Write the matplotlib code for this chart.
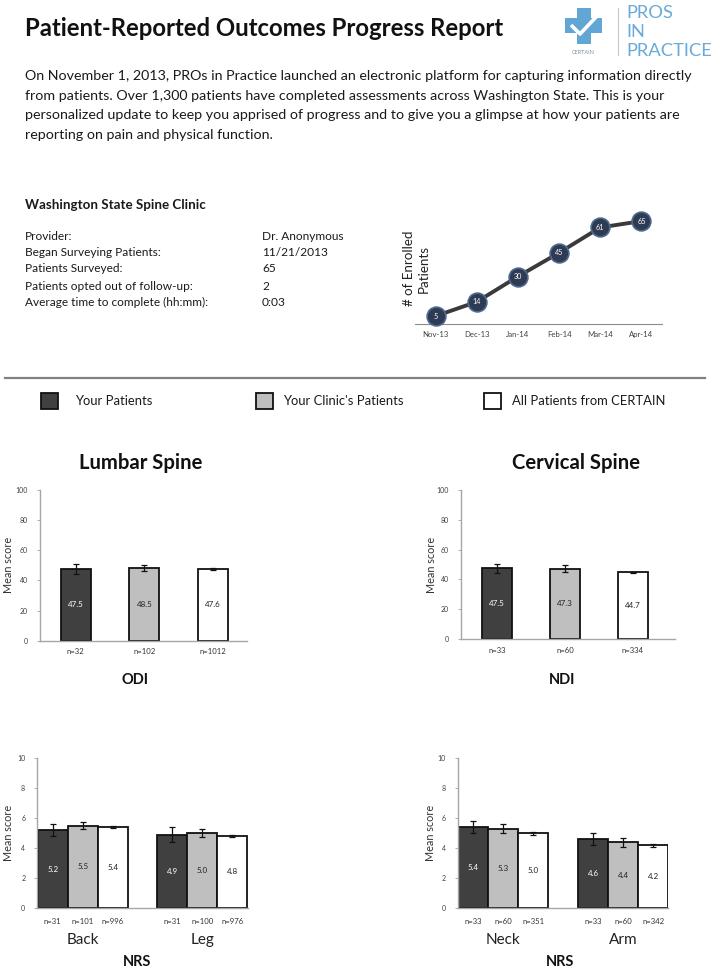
import matplotlib
matplotlib.use("Agg")
import matplotlib.pyplot as plt
from matplotlib.patches import Rectangle
import numpy as np

plt.rcParams['font.family'] = ['Lato', 'DejaVu Sans']

# ---------------- data ----------------
months = ['Nov-13', 'Dec-13', 'Jan-14', 'Feb-14', 'Mar-14', 'Apr-14']
enrolled = [5, 14, 30, 45, 61, 65]

series_names = ['Your Patients', "Your Clinic's Patients", 'All Patients from CERTAIN']

odi_mean = [47.5, 48.5, 47.6]
odi_err = [3.4, 2.0, 0.5]
odi_n = [32, 102, 1012]

ndi_mean = [47.5, 47.3, 44.7]
ndi_err = [3.1, 2.5, 0.6]
ndi_n = [33, 60, 334]

lumbar_nrs_cats = ['Back', 'Leg']
lumbar_nrs_mean = [[5.2, 4.9], [5.5, 5.0], [5.4, 4.8]]
lumbar_nrs_err = [[0.4, 0.48], [0.22, 0.25], [0.05, 0.05]]
lumbar_nrs_n = [[31, 31], [101, 100], [996, 976]]

cervical_nrs_cats = ['Neck', 'Arm']
cervical_nrs_mean = [[5.4, 4.6], [5.3, 4.4], [5.0, 4.2]]
cervical_nrs_err = [[0.38, 0.42], [0.28, 0.3], [0.1, 0.1]]
cervical_nrs_n = [[33, 33], [60, 60], [351, 342]]

info_labels = ['Provider:', 'Began Surveying Patients:', 'Patients Surveyed:',
               'Patients opted out of follow-up:', 'Average time to complete (hh:mm):']
info_values = ['Dr. Anonymous', '11/21/2013', '65', '2', '0:03']

# ---------------- styles ----------------
bar_colors = ['#404040', '#bfbfbf', '#ffffff']
label_colors = ['white', '#222222', '#222222']
W, H = 720, 975

fig = plt.figure(figsize=(W / 100, H / 100), dpi=100)
fig.patch.set_facecolor('white')

# overlay axes in pixel coordinates for decorations / text
ov = fig.add_axes([0, 0, 1, 1])
ov.set_xlim(0, W)
ov.set_ylim(H, 0)
ov.axis('off')
ov.patch.set_alpha(0)


def T(x, y, s, **kw):
    kw.setdefault('va', 'center')
    kw.setdefault('ha', 'left')
    kw.setdefault('color', '#1a1a1a')
    ov.text(x, y, s, **kw)


def px_axes(left, top, right, bottom):
    return fig.add_axes([left / W, 1 - bottom / H, (right - left) / W, (bottom - top) / H])


# ---- header ----
T(25, 28, 'Patient-Reported Outcomes Progress Report', fontsize=17.2, fontweight='bold', color='#111111')

para = ['On November 1, 2013, PROs in Practice launched an electronic platform for capturing information directly',
        'from patients. Over 1,300 patients have completed assessments across Washington State. This is your',
        'personalized update to keep you apprised of progress and to give you a glimpse at how your patients are',
        'reporting on pain and physical function.']
for i, line in enumerate(para):
    T(25, 76 + i * 19.7, line, fontsize=10.3)

# ---- logo ----
blue = '#62a6d6'
ov.add_patch(Rectangle((577, 8), 14, 36, color=blue, lw=0))
ov.add_patch(Rectangle((565, 18), 37, 15, color=blue, lw=0))
ov.plot([571, 580, 597], [25, 34, 16], color='white', lw=2.6, solid_capstyle='butt')
T(583, 52, 'CERTAIN', fontsize=4, ha='center', color='#7a8fa0')
ov.plot([618, 618], [8, 55], color='#c8c8c8', lw=0.8)
for i, w in enumerate(['PROS', 'IN', 'PRACTICE']):
    T(626, 13 + i * 19, w, fontsize=13.2, color='#6aaad8')

# ---- clinic info ----
T(25, 205, 'Washington State Spine Clinic', fontsize=9.6, fontweight='bold')
info_y = [236, 252, 268, 286, 302]
for y, lab, val in zip(info_y, info_labels, info_values):
    T(25, y, lab, fontsize=8.6)
    T(262, y, val, fontsize=8.6)

# ---- enrolment line chart ----
axl = px_axes(415, 213.2, 662, 324)
xs = np.arange(len(months))
axl.plot(xs, enrolled, color='#3a3a3a', lw=2.8, zorder=2, clip_on=False)
axl.plot(xs, enrolled, 'o', ms=13.5, mfc='#2f3b52', mec='#4d6a92', mew=1.2, zorder=3, clip_on=False)
for x, v in zip(xs, enrolled):
    axl.text(x, v, str(v), ha='center', va='center', fontsize=5.2, color='white', zorder=4)
axl.set_xlim(-0.5, len(months) - 0.5)
axl.set_ylim(0, 70)
axl.set_xticks(xs)
axl.set_xticklabels(months, fontsize=5.6, color='#404040')
axl.set_yticks([])
for s in ['top', 'right', 'left']:
    axl.spines[s].set_visible(False)
axl.spines['bottom'].set_color('#8c8c8c')
axl.tick_params(axis='x', length=0, pad=5)
axl.set_ylabel('# of Enrolled\nPatients', fontsize=9.6, color='#222222', linespacing=1.3)
axl.yaxis.set_label_coords(0.06, 0.5)
axl.patch.set_alpha(0)

# ---- separator & legend ----
ov.plot([5, 705], [378, 378], color='#808080', lw=1.6)
leg_x = [41, 256, 484]
leg_tx = [75, 283, 512]
for c, x, tx, name in zip(bar_colors, leg_x, leg_tx, series_names):
    ov.add_patch(Rectangle((x, 393), 17, 16, facecolor=c, edgecolor='#111111', lw=1.3))
    T(tx, 401, name, fontsize=9.4)


# ---- bar charts ----
def style_axes(ax, ymax, step, lab_x):
    ax.set_ylim(0, ymax)
    ax.set_yticks(np.arange(0, ymax + 0.1, step))
    ax.tick_params(axis='y', labelsize=5.0, labelcolor='#404040', length=2.5, width=0.6,
                   color='#a0a0a0', pad=6)
    ax.tick_params(axis='x', length=0)
    ax.set_xticks([])
    for s in ['top', 'right']:
        ax.spines[s].set_visible(False)
    for s in ['left', 'bottom']:
        ax.spines[s].set_color('#a6a6a6')
        ax.spines[s].set_linewidth(1.0)
    ax.set_ylabel('Mean score', fontsize=7.8, color='#333333')
    ax.yaxis.set_label_coords(lab_x, 0.5)
    ax.patch.set_alpha(0)


def odi_chart(box, centre_px, spacing_px, means, errs, ns, title, title_x, sub, sub_x, lab_x):
    left, top, right, bottom = box
    ax = px_axes(left, top, right, bottom)
    pos = np.arange(3)
    ax.bar(pos, means, width=30 / spacing_px, color=bar_colors, edgecolor='#111111', lw=1.3, zorder=2)
    ax.errorbar(pos, means, yerr=errs, fmt='none', ecolor='#111111', elinewidth=0.9, capsize=2.5,
                capthick=0.9, zorder=3)
    for p, m, lc, n in zip(pos, means, label_colors, ns):
        ax.text(p, m / 2, f'{m:.1f}', ha='center', va='center', fontsize=5.8, color=lc, zorder=4)
        ax.annotate(f'n={n}', (p, 0), xytext=(0, -8), textcoords='offset points',
                    ha='center', va='center', fontsize=5.6, color='#333333', annotation_clip=False)
    x0 = -(centre_px - left) / spacing_px
    ax.set_xlim(x0, x0 + (right - left) / spacing_px)
    style_axes(ax, 100, 20, lab_x)
    T(title_x, 463, title, fontsize=14.6, fontweight='bold', ha='center', color='#111111')
    T(sub_x, 680, sub, fontsize=10.5, fontweight='bold', ha='center', color='#111111')


odi_chart((40, 490, 247, 640.7), 75.7, 68.7, odi_mean, odi_err, odi_n,
          'Lumbar Spine', 141, 'ODI', 135, -0.125)
odi_chart((460.7, 490, 675, 639), 497, 68.0, ndi_mean, ndi_err, ndi_n,
          'Cervical Spine', 576, 'NDI', 562, -0.11)


def nrs_chart(box, centre_px, spacing_px, cats, means, errs, ns, sub_x, lab_x):
    left, top, right, bottom = box
    ax = px_axes(left, top, right, bottom)
    w = 30 / spacing_px
    gpos = np.arange(len(cats))
    for k in range(3):
        p = gpos + (k - 1) * w
        ax.bar(p, means[k], width=w, color=bar_colors[k], edgecolor='#111111', lw=1.3, zorder=2)
        ax.errorbar(p, means[k], yerr=errs[k], fmt='none', ecolor='#111111', elinewidth=0.9,
                    capsize=2.5, capthick=0.9, zorder=3)
        for pp, m, n in zip(p, means[k], ns[k]):
            ax.text(pp, m / 2, f'{m:.1f}', ha='center', va='center', fontsize=5.8,
                    color=label_colors[k], zorder=4)
            ax.annotate(f'n={n}', (pp, 0), xytext=(0, -10), textcoords='offset points',
                        ha='center', va='center', fontsize=5.6, color='#333333',
                        annotation_clip=False)
    for g, c in zip(gpos, cats):
        ax.annotate(c, (g, 0), xytext=(0, -23), textcoords='offset points', ha='center',
                    va='center', fontsize=11, color='#222222', annotation_clip=False)
    x0 = -(centre_px - left) / spacing_px
    ax.set_xlim(x0, x0 + (right - left) / spacing_px)
    style_axes(ax, 10, 2, lab_x)
    T(sub_x, 962, 'NRS', fontsize=10.5, fontweight='bold', ha='center', color='#111111')


nrs_chart((37, 758, 248, 908), 82.7, 119.5, lumbar_nrs_cats, lumbar_nrs_mean, lumbar_nrs_err,
          lumbar_nrs_n, 137, -0.111)
nrs_chart((457.7, 758, 668, 908), 503.3, 119.9, cervical_nrs_cats, cervical_nrs_mean,
          cervical_nrs_err, cervical_nrs_n, 560, -0.103)

fig.savefig('out.png', dpi=100, facecolor='white')
